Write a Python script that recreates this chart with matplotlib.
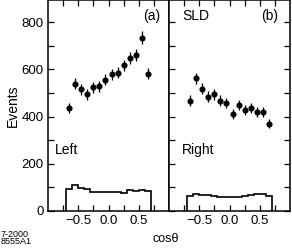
import numpy as np
import matplotlib.pyplot as plt
from matplotlib.ticker import MultipleLocator, FixedLocator

plt.rcParams['font.family'] = ['Liberation Sans', 'DejaVu Sans']

# bins in cos(theta)
edges = [-0.7, -0.6, -0.5, -0.4, -0.3, -0.2, -0.1, 0.0, 0.1, 0.2, 0.3, 0.4, 0.5, 0.6, 0.7]
centers = [-0.65, -0.55, -0.45, -0.35, -0.25, -0.15, -0.05, 0.05, 0.15, 0.25, 0.35, 0.45, 0.55, 0.65]

# left-handed beam
left_events = [435, 539, 515, 494, 525, 529, 557, 579, 586, 617, 647, 661, 735, 582]
left_err = [21, 23, 23, 22, 23, 23, 24, 24, 24, 25, 25, 26, 27, 24]
left_bkg = [92, 109, 95, 91, 78, 81, 81, 79, 78, 77, 87, 84, 90, 84]

# right-handed beam
right_events = [468, 562, 518, 485, 494, 468, 458, 411, 448, 427, 437, 420, 420, 370]
right_err = [22, 24, 23, 22, 22, 22, 21, 20, 21, 21, 21, 20, 20, 19]
right_bkg = [64, 72, 68, 68, 64, 60, 58, 58, 60, 63, 68, 71, 72, 64]

fig = plt.figure(figsize=(2.92, 2.49), dpi=100)
W = 121 / 292
ax1 = fig.add_axes([48 / 292, 38.3 / 249, W, 1 - 38.3 / 249])
ax2 = fig.add_axes([169 / 292, 38.3 / 249, W, 1 - 38.3 / 249])

panels = [(ax1, left_events, left_err, left_bkg),
          (ax2, right_events, right_err, right_bkg)]

for ax, ev, er, bk in panels:
    ax.errorbar(centers, ev, yerr=er, fmt='o', color='black', ms=3.4,
                elinewidth=0.9, capsize=0)
    ax.stairs(bk, edges, baseline=0, color='black', lw=1.2)
    ax.set_xlim(-1.0, 1.0)
    ax.set_ylim(0, 895)
    ax.xaxis.set_major_locator(FixedLocator([-0.5, 0, 0.5]))
    ax.xaxis.set_minor_locator(FixedLocator([-0.75, -0.25, 0.25, 0.75]))
    ax.yaxis.set_major_locator(MultipleLocator(200))
    ax.yaxis.set_minor_locator(MultipleLocator(100))
    ax.tick_params(which='both', direction='in', top=True, labelsize=9.5, pad=3)
    ax.tick_params(which='major', length=4.5, width=0.9)
    ax.tick_params(which='minor', length=4.5, width=0.9)
    for s in ax.spines.values():
        s.set_linewidth(1.1)

ax1.tick_params(which='both', right=False)
ax2.tick_params(which='both', right=True, labelleft=False)

ax1.set_ylabel("Events", fontsize=10, labelpad=1)

ax1.text(0.93, 0.955, "(a)", transform=ax1.transAxes, ha='right', va='top', fontsize=10)
ax2.text(0.11, 0.955, "SLD", transform=ax2.transAxes, ha='left', va='top', fontsize=10)
ax2.text(0.90, 0.955, "(b)", transform=ax2.transAxes, ha='right', va='top', fontsize=10)
ax1.text(0.06, 0.29, "Left", transform=ax1.transAxes, ha='left', va='center', fontsize=10)
ax2.text(0.11, 0.29, "Right", transform=ax2.transAxes, ha='left', va='center', fontsize=10)

fig.text(166 / 292, 1 - 239 / 249, "cos\u03b8", ha='center', va='center', fontsize=9)
fig.text(0.003, 1 - 234 / 249, "7-2000", ha='left', va='center', fontsize=6.5)
fig.text(0.003, 1 - 241.5 / 249, "8555A1", ha='left', va='center', fontsize=6.5)

fig.savefig("out.png", dpi=100)
